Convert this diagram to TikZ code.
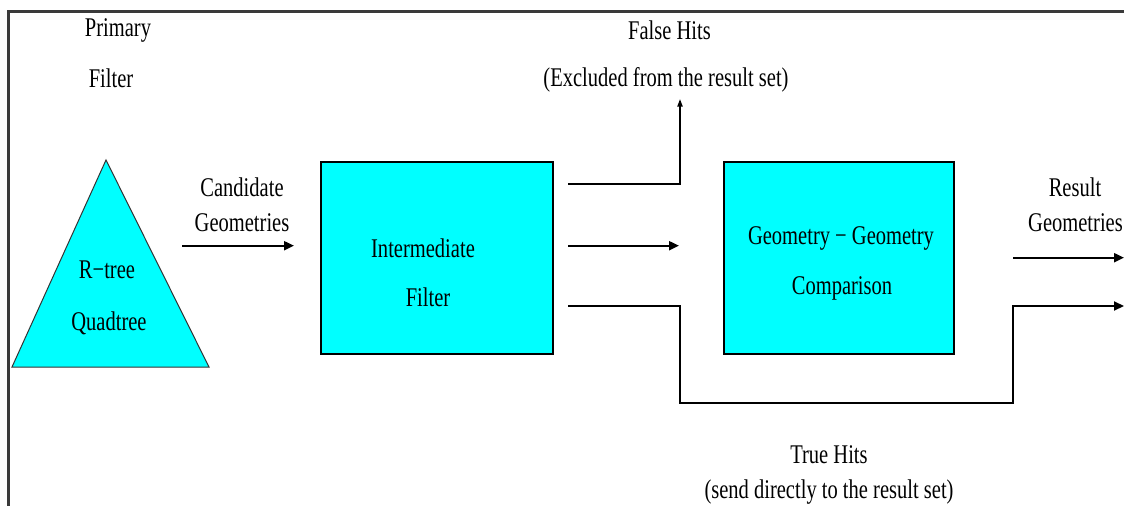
\documentclass[tikz,border=0pt]{standalone}
\usepackage{fontspec}
\setmainfont{Liberation Serif}[FakeStretch=0.76]
\usetikzlibrary{arrows.meta}
\definecolor{aqua}{RGB}{0,255,255}
\definecolor{framegray}{RGB}{58,58,58}
\begin{document}
\begin{tikzpicture}[x=1pt,y=-1pt,
  lbl/.style={anchor=base,inner sep=0pt,font=\fontsize{27}{30}\selectfont},
  stage/.style={draw=black,line width=2pt,fill=aqua,inner sep=0pt,anchor=north west},
  flow/.style={line width=2pt,draw=black},
  tipR/.style={-{Triangle[length=10pt,width=9pt]}},
  tipU/.style={-{Triangle[length=8pt,width=5pt]}},
]
\useasboundingbox (0,0) rectangle (1124,506);
\fill[white] (0,0) rectangle (1124,506);
% frame
\draw[line width=3pt,draw=framegray] (1124,11.7) -- (8.3,11.7) -- (8.3,506);

% primary filter (index tree)
\draw[fill=aqua,line width=1pt,draw=black!80] (106,160) -- (209,367) -- (12,367) -- cycle;
\node[lbl] (prim)  at (118,36.7) {Primary};
\node[lbl] (primf) at (111,87)   {Filter};
\node[lbl] (rtree) at (107,278)  {R−tree};
\node[lbl] (quad)  at (109,330)  {Quadtree};

% candidates
\node[lbl] (cand)  at (242,196.7) {Candidate};
\node[lbl] (candg) at (242,231.7) {Geometries};
\coordinate (ca) at (182,245.7);
\coordinate (cb) at (294,245.7);
\draw[flow,tipR] (ca) -- (cb);

% stages
\node[stage,minimum width=232pt,minimum height=192pt] (ifl) at (320,161) {};
\node[lbl] (iflt1) at (423,257) {Intermediate};
\node[lbl] (iflt2) at (428,306) {Filter};

\node[stage,minimum width=230pt,minimum height=192pt] (cmp) at (723,161) {};
\node[lbl] (cmpt1) at (841,244) {Geometry − Geometry};
\node[lbl] (cmpt2) at (842,294) {Comparison};

% false hits
\node[lbl] (fh1) at (669.5,39) {False Hits};
\node[lbl] (fh2) at (666,86) {(Excluded from the result set)};
\coordinate (fa) at (568,184.3);
\coordinate (fb) at (680,184.3);
\coordinate (fc) at (680,98.7);
\draw[flow,tipU] (fa) -- (fb) -- (fc);

% to comparison
\coordinate (ma) at (568,245.7);
\coordinate (mb) at (679,245.7);
\draw[flow,tipR] (ma) -- (mb);

% true hits
\coordinate (ta) at (568,305.7);
\coordinate (tb) at (680,305.7);
\coordinate (tc) at (680,402.7);
\coordinate (td) at (1013.3,402.7);
\coordinate (te) at (1013.3,306);
\coordinate (tf) at (1124,306);
\draw[flow,tipR] (ta) -- (tb) -- (tc) -- (td) -- (te) -- (tf);
\node[lbl] (th1) at (829,463.3) {True Hits};
\node[lbl] (th2) at (829,498) {(send directly to the result set)};

% results
\coordinate (ra) at (1013,257.7);
\coordinate (rb) at (1124,257.7);
\draw[flow,tipR] (ra) -- (rb);
\node[lbl] (res1) at (1075,196.7) {Result};
\node[lbl,anchor=base east] (res2) at (1123,231.7) {Geometries};
\end{tikzpicture}
\end{document}
